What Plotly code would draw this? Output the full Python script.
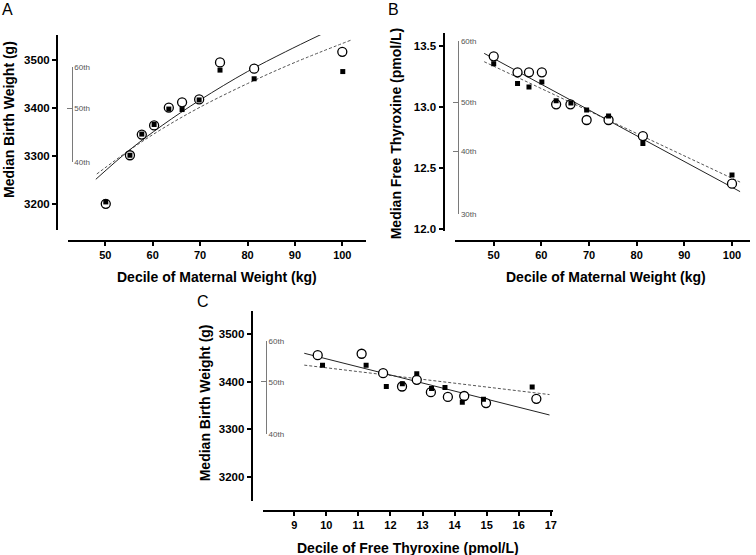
import plotly.graph_objects as go

W, H = 756, 555

# ---------------- Panel A: birth weight vs maternal weight ----------------
a_circ_x = [50.1, 55.2, 57.7, 60.3, 63.4, 66.2, 69.8, 74.2, 81.4, 100.0]
a_circ_y = [3201, 3302, 3345, 3364, 3401, 3412, 3418, 3495, 3482, 3517]
a_sq_x = [50.1, 55.2, 57.7, 60.3, 63.4, 66.2, 69.8, 74.2, 81.4, 100.1]
a_sq_y = [3205, 3302, 3346, 3366, 3398, 3397, 3417, 3479, 3461, 3476]
a_fit_circ_x = [48, 55, 62, 70, 80, 88, 95.5]
a_fit_circ_y = [3252, 3312, 3364, 3417, 3476, 3517, 3553]
a_fit_sq_x = [48.2, 55, 62, 70, 80, 90, 102]
a_fit_sq_y = [3263, 3312, 3357, 3402, 3451, 3495, 3542]
a_xticks = [50, 60, 70, 80, 90, 100]
a_yticks = [3200, 3300, 3400, 3500]
a_pct_vals = [3287, 3400, 3485]
a_pct_text = ["40th", "50th", "60th"]

# ---------------- Panel B: FT4 vs maternal weight ----------------
b_circ_x = [50.0, 55.0, 57.4, 60.1, 63.1, 66.1, 69.5, 74.1, 81.3, 100.0]
b_circ_y = [13.413, 13.282, 13.282, 13.282, 13.021, 13.021, 12.893, 12.893, 12.762, 12.373]
b_sq_x = [50.0, 55.0, 57.4, 60.1, 63.1, 66.2, 69.5, 74.1, 81.3, 100.0]
b_sq_y = [13.353, 13.192, 13.162, 13.203, 13.051, 13.032, 12.975, 12.926, 12.702, 12.444]
b_fit_circ_x = [48.0, 101.7]
b_fit_circ_y = [13.437, 12.308]
b_fit_sq_x = [48.0, 101.7]
b_fit_sq_y = [13.369, 12.386]
b_xticks = [50, 60, 70, 80, 90, 100]
b_yticks = [12.0, 12.5, 13.0, 13.5]
b_pct_vals = [12.125, 12.634, 13.038, 13.538]
b_pct_text = ["30th", "40th", "50th", "60th"]

# ---------------- Panel C: birth weight vs FT4 ----------------
c_circ_x = [9.73, 11.10, 11.77, 12.36, 12.82, 13.26, 13.79, 14.30, 14.98, 16.55]
c_circ_y = [3456, 3459, 3418, 3390, 3404, 3378, 3368, 3370, 3355, 3364]
c_sq_x = [9.88, 11.24, 11.87, 12.37, 12.82, 13.28, 13.70, 14.24, 14.90, 16.42]
c_sq_y = [3435, 3435, 3390, 3396, 3417, 3386, 3388, 3357, 3363, 3389]
c_fit_circ_x = [9.31, 16.96]
c_fit_circ_y = [3460, 3330]
c_fit_sq_x = [9.31, 16.96]
c_fit_sq_y = [3435, 3373]
c_xticks = [9, 10, 11, 12, 13, 14, 15, 16, 17]
c_yticks = [3200, 3300, 3400, 3500]
c_pct_vals = [3289.5, 3400, 3485]
c_pct_text = ["40th", "50th", "60th"]


def px_x(p):
    return p / W


def px_y(p):
    return 1 - p / H


FONT = "Liberation Sans, Arial, Helvetica, sans-serif"

fig = go.Figure()


def add_panel(xa, ya, fcx, fcy, fsx, fsy, cx, cy, sx, sy):
    fig.add_trace(go.Scatter(x=fsx, y=fsy, mode="lines", line=dict(color="#555555", width=1, dash="3px,2px"),
                             line_shape="spline", xaxis=xa, yaxis=ya, hoverinfo="skip"))
    fig.add_trace(go.Scatter(x=fcx, y=fcy, mode="lines", line=dict(color="#222222", width=1),
                             line_shape="spline", xaxis=xa, yaxis=ya, hoverinfo="skip"))
    fig.add_trace(go.Scatter(x=cx, y=cy, mode="markers", xaxis=xa, yaxis=ya,
                             marker=dict(symbol="circle", size=9, color="white",
                                         line=dict(color="black", width=1.3))))
    fig.add_trace(go.Scatter(x=sx, y=sy, mode="markers", xaxis=xa, yaxis=ya,
                             marker=dict(symbol="square", size=5, color="black",
                                         line=dict(color="black", width=0))))


add_panel("x", "y", a_fit_circ_x, a_fit_circ_y, a_fit_sq_x, a_fit_sq_y, a_circ_x, a_circ_y, a_sq_x, a_sq_y)
add_panel("x2", "y2", b_fit_circ_x, b_fit_circ_y, b_fit_sq_x, b_fit_sq_y, b_circ_x, b_circ_y, b_sq_x, b_sq_y)
add_panel("x3", "y3", c_fit_circ_x, c_fit_circ_y, c_fit_sq_x, c_fit_sq_y, c_circ_x, c_circ_y, c_sq_x, c_sq_y)

# invisible carriers so the percentile bracket axes are drawn
for xa, ya, vals in [("x", "y4", a_pct_vals), ("x2", "y5", b_pct_vals), ("x3", "y6", c_pct_vals)]:
    fig.add_trace(go.Scatter(x=[None] * len(vals), y=vals, mode="markers", xaxis=xa, yaxis=ya,
                             marker=dict(opacity=0), hoverinfo="skip"))


def main_x(dom, rng, pos, ticks):
    return dict(domain=[px_x(dom[0]), px_x(dom[1])], range=rng, anchor="free", position=px_y(pos),
                tickvals=ticks, showline=True, linecolor="black", linewidth=2, ticks="outside",
                ticklen=4, tickwidth=2, tickcolor="black", showgrid=False, zeroline=False,
                tickfont=dict(family=FONT, size=11, color="black", weight="bold"), automargin=False)


def main_y(dom, rng, pos, ticks, fmt=None):
    d = dict(domain=[px_y(dom[1]), px_y(dom[0])], range=rng, anchor="free", position=px_x(pos),
             tickvals=ticks, showline=True, linecolor="black", linewidth=2, ticks="outside",
             ticklen=4, tickwidth=2, tickcolor="black", showgrid=False, zeroline=False,
             tickfont=dict(family=FONT, size=11.5, color="black", weight="bold"), automargin=False)
    if fmt:
        d["tickformat"] = fmt
    return d


def pct_y(main, vals, text, pos):
    r0, r1 = main["range"]
    d0, d1 = main["domain"]
    lo, hi = min(vals), max(vals)
    f = lambda v: d0 + (v - r0) / (r1 - r0) * (d1 - d0)
    return dict(domain=[f(lo), f(hi)], range=[lo - 0.0005 * (r1 - r0), hi + 0.0005 * (r1 - r0)],
                anchor="free", position=px_x(pos), side="right", tickvals=vals, ticktext=text,
                showline=True, linecolor="#7a7a7a", linewidth=1, ticks="inside", ticklen=5,
                tickwidth=1, tickcolor="#7a7a7a", showgrid=False, zeroline=False,
                tickfont=dict(family=FONT, size=8, color="#555555"), automargin=False)


ya = main_y((35, 230), [3146.6, 3552], 57, a_yticks)
yb = main_y((33.3, 230.7), [11.989, 13.601], 443.5, b_yticks, ".1f")
yc = main_y((310.7, 500.7), [3149.4, 3549.7], 251.7, c_yticks)

fig.update_layout(
    width=W, height=H, margin=dict(l=0, r=0, t=0, b=0),
    paper_bgcolor="white", plot_bgcolor="rgba(0,0,0,0)", showlegend=False,
    xaxis=main_x((68, 366), [42.13, 105.0], 240.7, a_xticks),
    yaxis=ya,
    xaxis2=main_x((455.3, 750.3), [41.94, 103.84], 240.7, b_xticks),
    yaxis2=yb,
    xaxis3=main_x((262.7, 552.7), [8.014, 17.06], 511, c_xticks),
    yaxis3=yc,
    yaxis4=pct_y(ya, a_pct_vals, a_pct_text, 71.7),
    yaxis5=pct_y(yb, b_pct_vals, b_pct_text, 458.3),
    yaxis6=pct_y(yc, c_pct_vals, c_pct_text, 266),
)


def ann(text, x, y, size, angle=0, bold=True):
    fig.add_annotation(text=text, x=px_x(x), y=px_y(y), xref="paper", yref="paper", showarrow=False,
                       textangle=angle, xanchor="center", yanchor="middle",
                       font=dict(family=FONT, size=size, color="black", weight="bold" if bold else "normal"))


ann("Median Birth Weight (g)", 8.5, 119.5, 14, -90)
ann("Decile of Maternal Weight (kg)", 216.7, 276.7, 14)
ann("Median Free Thyroxine (pmol/L)", 396.3, 133, 14, -90)
ann("Decile of Maternal Weight (kg)", 606.3, 276.7, 14)
ann("Median Birth Weight (g)", 205, 403.3, 14, -90)
ann("Decile of Free Thyroxine (pmol/L)", 408.3, 548.3, 14)
ann("A", 7.5, 9, 16, bold=False)
ann("B", 393.5, 9, 16, bold=False)
ann("C", 202.5, 301, 16, bold=False)

fig.write_html("out.html", config={"displayModeBar": False},
               post_script="document.body.style.margin='0';document.body.style.overflow='hidden';")
